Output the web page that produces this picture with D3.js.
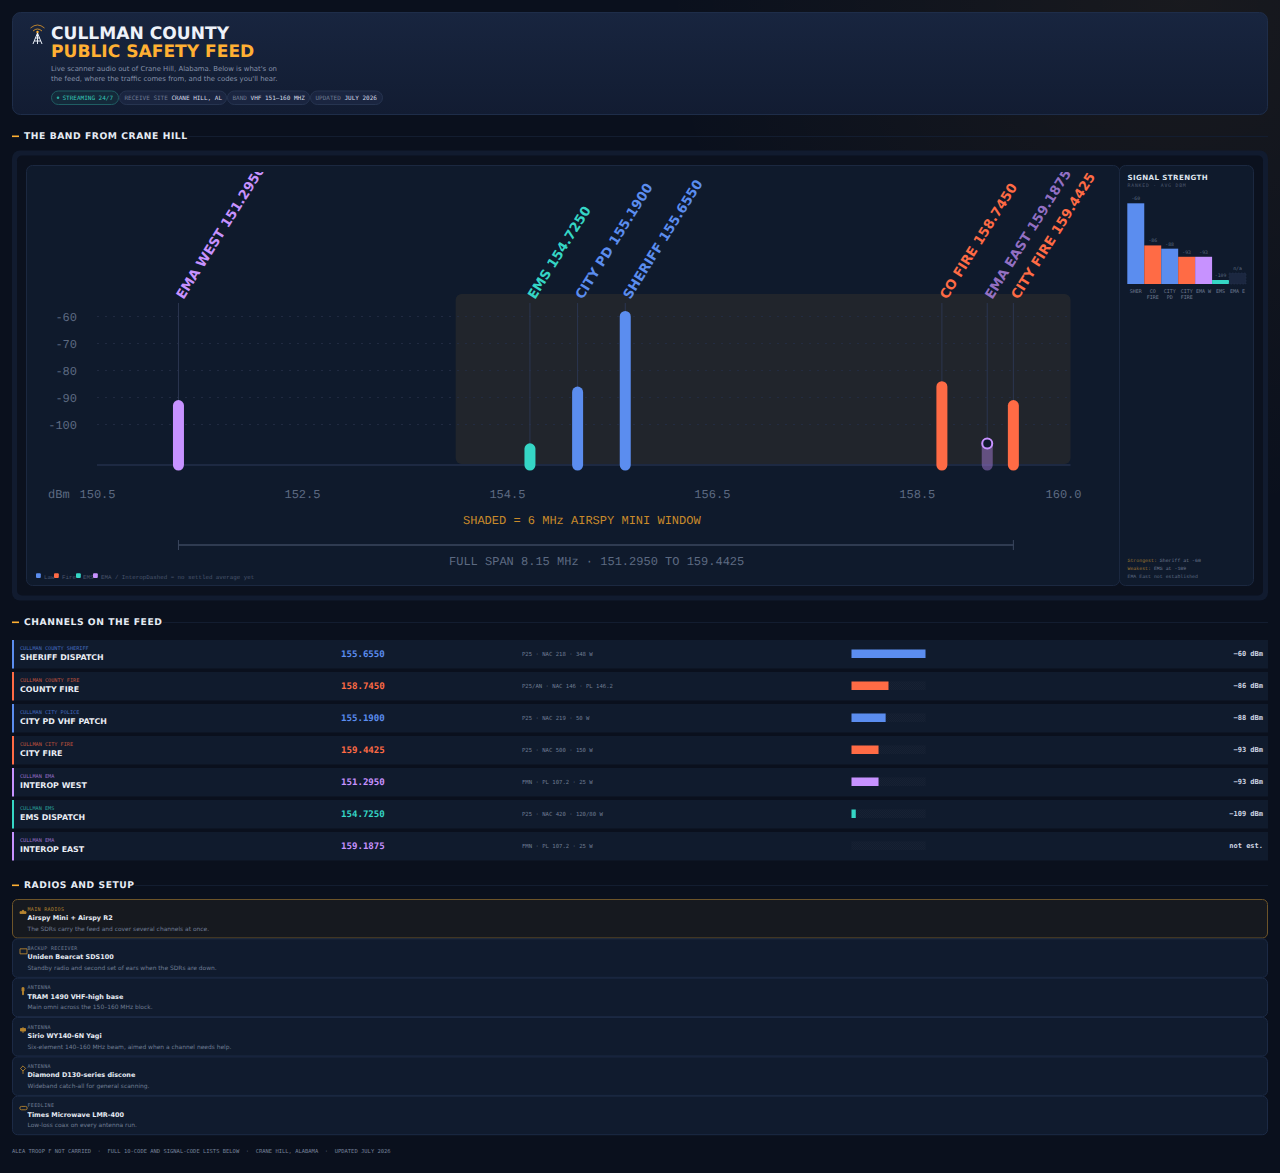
<!DOCTYPE html>
<html>
<head>
<meta charset="utf-8">
<title>Cullman County Public Safety Feed</title>
<script src="https://cdn.jsdelivr.net/npm/d3@7"></script>
<style>
  html, body { margin:0; padding:0; background:#0a101d; overflow:hidden; }
  svg { display:block; text-rendering:geometricPrecision; }
  .sans { font-family:"DejaVu Sans",sans-serif; }
  .mono { font-family:"DejaVu Sans Mono",monospace; }
  .lib { font-family:"Liberation Mono",monospace; }
</style>
</head>
<body>
<div id="page"></div>
<script>
// channel table, strongest first
const channelNames = ["SHERIFF DISPATCH","COUNTY FIRE","CITY PD VHF PATCH","CITY FIRE","INTEROP WEST","EMS DISPATCH","INTEROP EAST"];
const agencies = ["CULLMAN COUNTY SHERIFF","CULLMAN COUNTY FIRE","CULLMAN CITY POLICE","CULLMAN CITY FIRE","CULLMAN EMA","CULLMAN EMS","CULLMAN EMA"];
const freqs = [155.655,158.745,155.19,159.4425,151.295,154.725,159.1875];
const dbm = [-60,-86,-88,-93,-93,-109,null];
const services = ["law","fire","law","fire","ema","ems","ema"];
const metas = ["P25 · NAC 218 · 348 W","P25/AN · NAC 146 · PL 146.2","P25 · NAC 219 · 50 W","P25 · NAC 500 · 150 W","FMN · PL 107.2 · 25 W","P25 · NAC 420 · 120/80 W","FMN · PL 107.2 · 25 W"];
const readouts = ["−60 dBm","−86 dBm","−88 dBm","−93 dBm","−93 dBm","−109 dBm","not est."];

// short names on the band plot and the ranked bars
const plotLabels = ["SHERIFF","CO FIRE","CITY PD","CITY FIRE","EMA WEST","EMS","EMA EAST"];
const rankLabels = [["SHER"],["CO","FIRE"],["CITY","PD"],["CITY","FIRE"],["EMA W"],["EMS"],["EMA E"]];
const rankValues = ["-60","-86","-88","-93","-93","-109","n/a"];
const unsettledDbm = -107;      // marker for the channel with no average
const unsettledRankDbm = -103;  // dashed stub in the ranked bars

const xTicks = [150.5,152.5,154.5,156.5,158.5,160];
const yTicks = [-60,-70,-80,-90,-100];
const airspyWindow = [154,160];
const spanEnds = [151.295,159.4425];

const legendItems = [["law","Law"],["fire","Fire"],["ems","EMS"],["ema","EMA / Interop"]];
const legendSwatchX = [36,54,76,93];
const legendTextX = [44,62,83,101];

const gearLabels = ["MAIN RADIOS","BACKUP RECEIVER","ANTENNA","ANTENNA","ANTENNA","FEEDLINE"];
const gearNames = ["Airspy Mini + Airspy R2","Uniden Bearcat SDS100","TRAM 1490 VHF-high base","Sirio WY140-6N Yagi","Diamond D130-series discone","Times Microwave LMR-400"];
const gearNotes = [
  "The SDRs carry the feed and cover several channels at once.",
  "Standby radio and second set of ears when the SDRs are down.",
  "Main omni across the 150–160 MHz block.",
  "Six-element 140–160 MHz beam, aimed when a channel needs help.",
  "Wideband catch-all for general scanning.",
  "Low-loss coax on every antenna run."
];

const pills = [
  ["", "STREAMING 24/7"],
  ["RECEIVE SITE ", "CRANE HILL, AL"],
  ["BAND ", "VHF 151–160 MHZ"],
  ["UPDATED ", "JULY 2026"]
];
const pillEdges = [51,119,227,310,383];

const color = {law:"#5b8def", fire:"#ff6b45", ems:"#35d6c5", ema:"#c792ff"};
const orange = "#ffb033";

const svg = d3.select("#page").append("svg").attr("width",1280).attr("height",1173);
const defs = svg.append("defs");

const glow = defs.append("radialGradient").attr("id","glow").attr("gradientUnits","userSpaceOnUse")
  .attr("cx",1180).attr("cy",0).attr("r",520);
glow.append("stop").attr("offset","0").attr("stop-color",orange).attr("stop-opacity",0.06);
glow.append("stop").attr("offset","1").attr("stop-color",orange).attr("stop-opacity",0);
const headGrad = defs.append("linearGradient").attr("id","head").attr("x1",0).attr("y1",0).attr("x2",0).attr("y2",1);
headGrad.append("stop").attr("offset","0").attr("stop-color","#18253f");
headGrad.append("stop").attr("offset","1").attr("stop-color","#121c32");
const trackPat = defs.append("pattern").attr("id","track").attr("patternUnits","userSpaceOnUse").attr("width",2).attr("height",2);
trackPat.append("rect").attr("width",2).attr("height",2).attr("fill","#111c2e");
trackPat.append("rect").attr("width",1).attr("height",1).attr("fill","#172133");
trackPat.append("rect").attr("x",1).attr("y",1).attr("width",1).attr("height",1).attr("fill","#172133");
defs.append("clipPath").attr("id","plotClip").append("rect").attr("x",26).attr("y",172).attr("width",1093).attr("height",414);

svg.append("rect").attr("width",1280).attr("height",1173).attr("fill","#0a101d");
svg.append("rect").attr("width",1280).attr("height",1173).attr("fill","url(#glow)");

function label(g, x, y, str, cls, size, fill, weight) {
  return g.append("text").attr("class",cls).attr("x",x).attr("y",y)
    .attr("font-size",size).attr("fill",fill).attr("font-weight",weight || "normal").text(str);
}

// =============================
// HEADER
// =============================
const head = svg.append("g");
head.append("rect").attr("x",12.5).attr("y",12.5).attr("width",1255).attr("height",102).attr("rx",8)
  .attr("fill","url(#head)").attr("stroke","#1e2d49");

// tower icon
const tower = head.append("g").attr("transform","translate(37.5,0)").attr("fill","none");
tower.append("path").attr("d","M-7,28 Q0,22 7,28").attr("stroke","#c98a2b").attr("stroke-width",0.9);
tower.append("path").attr("d","M-4.5,31 Q0,27 4.5,31").attr("stroke","#d9962f").attr("stroke-width",0.9);
tower.append("circle").attr("cx",0).attr("cy",32).attr("r",1.2).attr("fill",orange);
tower.append("path").attr("d","M0,33 L-4.5,44 M0,33 L4.5,44 M-2.2,38 L2.2,38 M-3.3,41 L3.3,41 M0,33 L0,44")
  .attr("stroke","#e8edf6").attr("stroke-width",1);

label(head,51,39,"CULLMAN COUNTY","sans",17.1,"#eef2f9","bold");
label(head,51,57,"PUBLIC SAFETY FEED","sans",17.1,orange,"bold");
label(head,51,70.5,"Live scanner audio out of Crane Hill, Alabama. Below is what's on","sans",6.9,"#8591a9");
label(head,51,80.5,"the feed, where the traffic comes from, and the codes you'll hear.","sans",6.9,"#8591a9");

pills.forEach((p,i) => {
  const x0 = pillEdges[i], x1 = pillEdges[i+1];
  head.append("rect").attr("x",x0+0.5).attr("y",91).attr("width",x1-x0-1).attr("height",13.5).attr("rx",6.75)
    .attr("fill",i === 0 ? "#14293a" : "#1a2540").attr("stroke",i === 0 ? "#1f5d63" : "#263450");
  if (i === 0) {
    head.append("circle").attr("cx",58).attr("cy",97.8).attr("r",1.3).attr("fill","#2aa79c");
    label(head,62.5,100,p[1],"mono",6,"#35c7b8");
  } else {
    const t = label(head,x0+5.5,100,"","mono",6,"#6f7b93");
    t.append("tspan").text(p[0]);
    t.append("tspan").attr("fill","#d5dbe7").text(p[1]);
  }
});

function sectionHead(y, str, textEnd) {
  svg.append("rect").attr("x",12).attr("y",y-0.5).attr("width",7).attr("height",1.6).attr("fill",orange);
  label(svg,24,y+3.4,str,"sans",9.2,"#e6ebf4","bold").attr("letter-spacing",0.55);
  svg.append("line").attr("x1",textEnd).attr("x2",1268).attr("y1",y+0.5).attr("y2",y+0.5).attr("stroke","#131d30");
}

sectionHead(136,"THE BAND FROM CRANE HILL",188);
sectionHead(622,"CHANNELS ON THE FEED",163);
sectionHead(885,"RADIOS AND SETUP",135);

// =============================
// BAND PLOT
// =============================
svg.append("rect").attr("x",12).attr("y",150.5).attr("width",1256).attr("height",450).attr("rx",8)
  .attr("fill","#111b2f");
svg.append("rect").attr("x",17).attr("y",155.5).attr("width",1246).attr("height",440).attr("rx",5)
  .attr("fill","#0b111e");
svg.append("rect").attr("x",26.5).attr("y",165.5).attr("width",1093).attr("height",420).attr("rx",6)
  .attr("fill","#0f1a2c").attr("stroke","#1b2840");

const x = d3.scaleLinear().domain([150.5,160]).range([97,1070.5]);
const y = d3.scaleLinear().domain([-60,-100]).range([316.5,424.5]);
const baseY = 465;

const plot = svg.append("g").attr("clip-path","url(#plotClip)");

plot.append("rect")
  .attr("x",x(airspyWindow[0])).attr("y",294)
  .attr("width",x(airspyWindow[1])-x(airspyWindow[0])).attr("height",170).attr("rx",6)
  .attr("fill",orange).attr("fill-opacity",0.08);

plot.selectAll(".grid").data(yTicks).enter().append("line")
  .attr("x1",x(150.5)).attr("x2",x(160))
  .attr("y1",d => y(d)).attr("y2",d => y(d))
  .attr("stroke","#242f46").attr("stroke-width",0.8).attr("stroke-dasharray","2 6");

plot.append("line").attr("x1",x(150.5)).attr("x2",x(160)).attr("y1",baseY).attr("y2",baseY)
  .attr("stroke","#232f4a").attr("stroke-width",1.5);

const yAxis = plot.append("g").attr("class","lib").attr("transform","translate(77,0)")
  .call(d3.axisLeft(y).tickValues(yTicks).tickSize(0).tickPadding(0).tickFormat(d => d));
const xAxis = plot.append("g").attr("class","lib").attr("transform","translate(0,489)")
  .call(d3.axisBottom(x).tickValues(xTicks).tickSize(0).tickPadding(0).tickFormat(d3.format(".1f")));
[yAxis,xAxis].forEach(a => {
  a.select(".domain").remove();
  a.selectAll("text").attr("fill","#5d6a82").style("font-family","Liberation Mono,monospace").style("font-size","12px");
});
xAxis.selectAll(".tick").filter(d => d === 160).select("text").attr("dx",-7.5);
label(plot,48,498,"dBm","lib",12,"#5d6a82");

const channels = freqs.map((f,i) => ({
  f, db:dbm[i], svc:services[i], name:plotLabels[i]
}));
const markY = d => d.db === null ? y(unsettledDbm) : y(d.db);

// stems up to the labels
plot.selectAll(".stem").data(channels).enter().append("line")
  .attr("x1",d => x(d.f)).attr("x2",d => x(d.f))
  .attr("y1",303).attr("y2",markY)
  .attr("stroke","#2b3650").attr("stroke-width",1);

plot.selectAll(".bar").data(channels).enter().append("line")
  .attr("x1",d => x(d.f)).attr("x2",d => x(d.f))
  .attr("y1",baseY).attr("y2",markY)
  .attr("stroke",d => color[d.svc])
  .attr("stroke-opacity",d => d.db === null ? 0.4 : 1)
  .attr("stroke-width",11).attr("stroke-linecap","round");

plot.selectAll(".unset").data(channels.filter(d => d.db === null)).enter().append("circle")
  .attr("cx",d => x(d.f)).attr("cy",markY).attr("r",5)
  .attr("fill","#0f1a2c").attr("stroke",d => color[d.svc]).attr("stroke-width",2);

plot.selectAll(".chan").data(channels).enter().append("text")
  .attr("class","sans")
  .attr("transform",d => `translate(${x(d.f)+5},${300}) rotate(-58)`)
  .attr("font-size",13.3).attr("font-weight",600)
  .attr("fill",d => color[d.svc])
  .attr("fill-opacity",d => d.db === null ? 0.72 : 1)
  .text(d => `${d.name} ${d.f.toFixed(4)}`);

label(svg,463,524,"SHADED = 6 MHz AIRSPY MINI WINDOW","lib",12,"#c98a2b");

const bracket = svg.append("g").attr("stroke","#3b475e");
bracket.append("line").attr("x1",x(spanEnds[0])).attr("x2",x(spanEnds[1])).attr("y1",545).attr("y2",545).attr("stroke-width",1.6);
spanEnds.forEach(f => bracket.append("line").attr("x1",x(f)).attr("x2",x(f)).attr("y1",540).attr("y2",550).attr("stroke-width",1));
label(svg,449,565,"FULL SPAN 8.15 MHz · 151.2950 TO 159.4425","lib",12,"#5d6a82");

legendItems.forEach((d,i) => {
  svg.append("rect").attr("x",legendSwatchX[i]).attr("y",573.3).attr("width",4.8).attr("height",4.6).attr("rx",1).attr("fill",color[d[0]]);
  label(svg,legendTextX[i],578.5,d[1],"lib",5.8,"#4a566d");
});
label(svg,146.3,578.5,"Dashed = no settled average yet","lib",5.8,"#4a566d");

// =============================
// RANKED BARS
// =============================
svg.append("rect").attr("x",1119.5).attr("y",165.5).attr("width",134).attr("height",420).attr("rx",6)
  .attr("fill","#0f1a2c").attr("stroke","#1b2840");
label(svg,1127.5,180,"SIGNAL STRENGTH","sans",7.1,"#dfe5ef","bold").attr("letter-spacing",0.4);
label(svg,1127.5,186.5,"RANKED · AVG DBM","mono",4.8,"#4b576d").attr("letter-spacing",0.8);

const rankX = d3.scaleBand().domain(d3.range(channelNames.length)).range([1127.3,1246]);
const rankY = d3.scaleLinear().domain([-109.8,-60]).range([284,203.3]);
const rankData = dbm.map((d,i) => ({i, d, v:d === null ? unsettledRankDbm : d}));

const rankTop = r => Math.min(rankY(r.v), 280);
svg.selectAll(".rank").data(rankData).enter().append("rect")
  .attr("x",d => rankX(d.i)).attr("width",rankX.bandwidth())
  .attr("y",rankTop).attr("height",d => 284-rankTop(d))
  .attr("fill",d => d.d === null ? "#1b2740" : color[services[d.i]])
  .attr("stroke",d => d.d === null ? "#27344e" : "none")
  .attr("stroke-width",0.6).attr("stroke-dasharray","1.5 1.5");

svg.selectAll(".rankVal").data(rankData).enter().append("text")
  .attr("class","mono").attr("text-anchor","middle")
  .attr("x",d => rankX(d.i)+rankX.bandwidth()/2).attr("y",d => rankTop(d)-3)
  .attr("font-size",4.8).attr("fill","#5d6a82")
  .text(d => rankValues[d.i]);

rankLabels.forEach((lines,i) => {
  lines.forEach((s,k) => {
    label(svg,rankX(i)+rankX.bandwidth()/2,292.5+k*6.2,s,"mono",5,"#6f7b93").attr("text-anchor","middle");
  });
});

const strongest = label(svg,1127.5,562,"","lib",4.9,"#6f7b93");
strongest.append("tspan").attr("fill","#9a7330").text("Strongest:");
strongest.append("tspan").text(" Sheriff at -60");
const weakest = label(svg,1127.5,570,"","lib",4.9,"#6f7b93");
weakest.append("tspan").attr("fill","#9a7330").text("Weakest:");
weakest.append("tspan").text(" EMS at -109");
label(svg,1127.5,578,"EMA East not established","lib",4.9,"#5d6a82");

// =============================
// CHANNEL TABLE
// =============================
const rowY = d3.scaleLinear().domain([0,1]).range([640,672]);
const meter = d3.scaleLinear().domain([-112,-60]).range([0,74]);

const rows = svg.selectAll(".row").data(d3.range(channelNames.length)).enter().append("g")
  .attr("transform",i => `translate(0,${rowY(i)})`);
rows.append("rect").attr("x",12).attr("y",0).attr("width",1256).attr("height",28.5).attr("fill","#101b2d");
rows.append("rect").attr("x",12).attr("y",0).attr("width",2).attr("height",28.5).attr("fill",i => color[services[i]]);
rows.append("text").attr("class","mono").attr("x",20).attr("y",9.6).attr("font-size",5.2)
  .attr("fill",i => color[services[i]]).attr("fill-opacity",0.72).text(i => agencies[i]);
rows.append("text").attr("class","sans").attr("x",20).attr("y",20.2).attr("font-size",7.9).attr("font-weight",600)
  .attr("fill","#e9edf5").text(i => channelNames[i]);
rows.append("text").attr("class","mono").attr("x",341).attr("y",17).attr("font-size",9.1).attr("font-weight","bold")
  .attr("fill",i => color[services[i]]).text(i => freqs[i].toFixed(4));
rows.append("text").attr("class","mono").attr("x",522).attr("y",16).attr("font-size",5.6)
  .attr("fill","#6f7b93").text(i => metas[i]);
rows.append("rect").attr("x",851.5).attr("y",9.5).attr("width",74).attr("height",8.5).attr("fill","url(#track)");
rows.append("rect").attr("x",851.5).attr("y",9.5).attr("height",8.5)
  .attr("width",i => dbm[i] === null ? 0 : meter(dbm[i]))
  .attr("fill",i => color[services[i]]);
rows.append("text").attr("class","mono").attr("x",1263).attr("y",16).attr("font-size",7).attr("font-weight","bold")
  .attr("text-anchor","end").attr("fill","#cfd6e3").text(i => readouts[i]);

// =============================
// RADIOS AND SETUP
// =============================
const gearY = d3.scaleLinear().domain([0,5]).range([899,1095.7]);
const gear = svg.selectAll(".gear").data(d3.range(gearNames.length)).enter().append("g")
  .attr("transform",i => `translate(0,${gearY(i)})`);
gear.append("rect").attr("x",12.5).attr("y",0.5).attr("width",1255).attr("height",38.5).attr("rx",5)
  .attr("fill",i => i === 0 ? "#16191f" : "#101b2e")
  .attr("stroke",i => i === 0 ? "#6d5429" : "#1c2a45");
gear.append("text").attr("class","mono").attr("x",27.5).attr("y",11.5).attr("font-size",5)
  .attr("letter-spacing",0.33).attr("fill",i => i === 0 ? "#b5832f" : "#6f7b93").text(i => gearLabels[i]);
gear.append("text").attr("class","sans").attr("x",27.5).attr("y",21).attr("font-size",6.45).attr("font-weight","bold")
  .attr("fill","#e6ebf4").text(i => gearNames[i]);
gear.append("text").attr("class","sans").attr("x",27.5).attr("y",31.5).attr("font-size",5.95)
  .attr("fill","#6f7b93").text(i => gearNotes[i]);

// small orange glyphs beside each card
const gearIcons = [
  "M20,14.5 h6 v-1.8 h-1.5 l-1,-1.4 h-1 l-1,1.4 h-1.5 z",
  "M20,10.5 h7 v5 h-7 z",
  "M22,10 h2 v3.5 h-0.5 v3.5 h-1 v-3.5 h-0.5 z",
  "M20.5,11.5 h5 v2.5 h-5 z M23,10 v6",
  "M23,9.5 l2.6,2.6 l-2.6,2.6 l-2.6,-2.6 z M23,14.7 v2.8",
  "M21.5,10.7 h4 a1.7,1.7 0 0 1 0,3.4 h-4 a1.7,1.7 0 0 1 0,-3.4 z"
];
gear.append("path").attr("d",i => gearIcons[i]).attr("fill",(i) => i === 1 || i === 4 || i === 5 ? "none" : "#b5832f").attr("stroke","#b5832f").attr("stroke-width",0.9);

label(svg,12,1153,"ALEA TROOP F NOT CARRIED  ·  FULL 10-CODE AND SIGNAL-CODE LISTS BELOW  ·  CRANE HILL, ALABAMA  ·  UPDATED JULY 2026","mono",5.47,"#76829a")
  .style("white-space","pre");
</script>
</body>
</html>
